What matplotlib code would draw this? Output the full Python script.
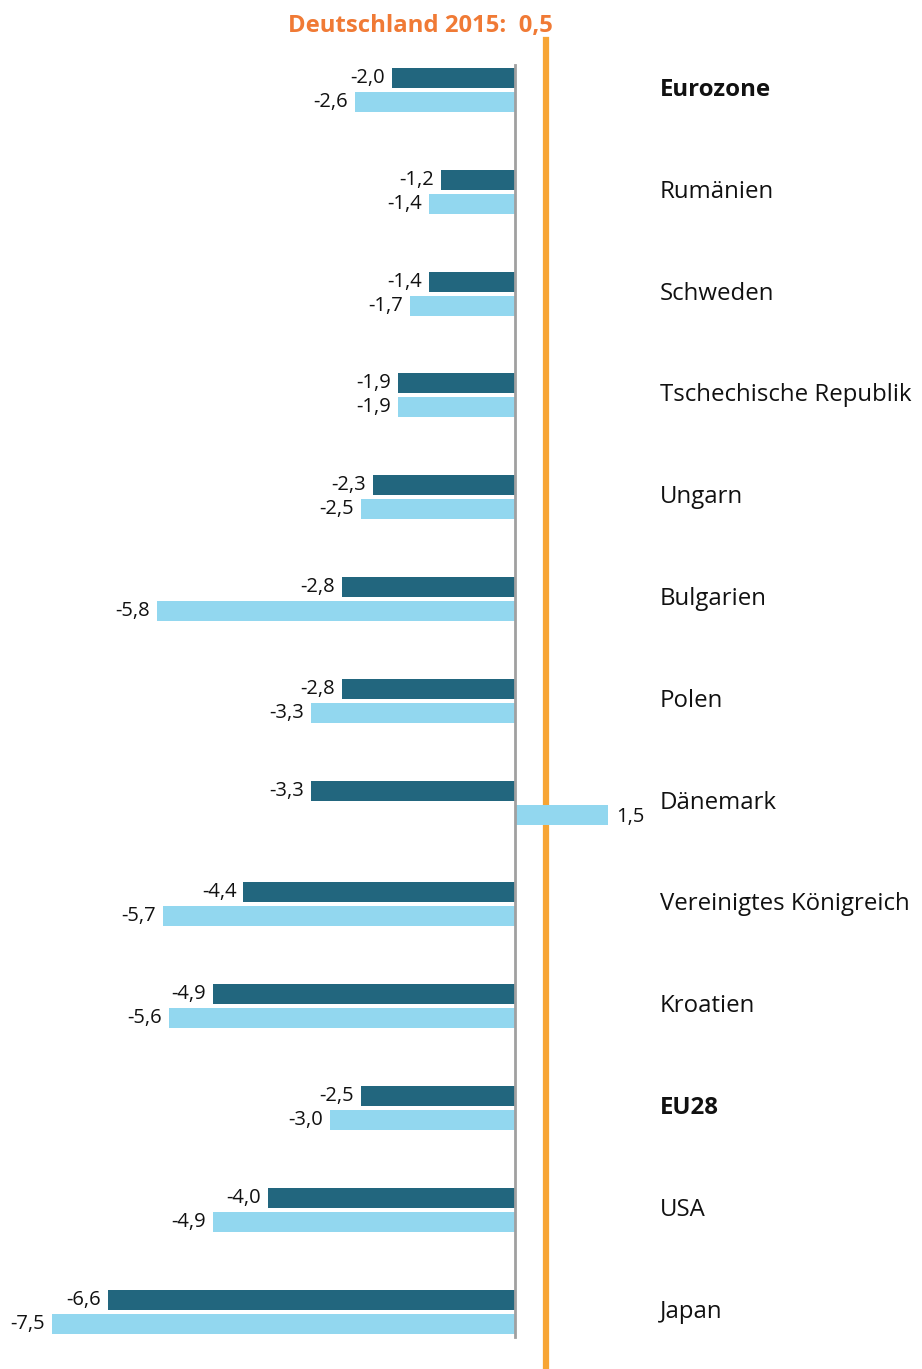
import matplotlib.pyplot as plt

plt.rcParams['font.family'] = ['Open Sans', 'DejaVu Sans']

countries = ["Eurozone", "Rumänien", "Schweden", "Tschechische Republik", "Ungarn",
             "Bulgarien", "Polen", "Dänemark", "Vereinigtes Königreich", "Kroatien",
             "EU28", "USA", "Japan"]
bold = ["Eurozone", "EU28"]
dark_vals = [-2.0, -1.2, -1.4, -1.9, -2.3, -2.8, -2.8, -3.3, -4.4, -4.9, -2.5, -4.0, -6.6]
light_vals = [-2.6, -1.4, -1.7, -1.9, -2.5, -5.8, -3.3, 1.5, -5.7, -5.6, -3.0, -4.9, -7.5]
germany = 0.5

dark = "#22667e"
light = "#92d7ef"
orange_line = "#f7a535"
orange_text = "#f07a35"

W, H = 922, 1369
fig = plt.figure(figsize=(W / 100, H / 100), dpi=100)
ax = fig.add_axes([0, 0, 1, 1])

px = 61.73  # pixels per unit
x0 = 515
ax.set_xlim(-x0 / px, (W - x0) / px)
row = 101.8
y0 = 90
ax.set_ylim((H - y0) / row, -y0 / row)
ax.axis("off")

pos = list(range(len(countries)))
bh = 20 / row
off = 12 / row
ax.barh([p - off for p in pos], dark_vals, height=bh, color=dark, zorder=2)
ax.barh([p + off for p in pos], light_vals, height=bh, color=light, zorder=2)

def fmt(v):
    return f"{v:.1f}".replace(".", ",")

pad = 7 / px
for p, dv, lv in zip(pos, dark_vals, light_vals):
    for v, yy in ((dv, p - off), (lv, p + off)):
        if v < 0:
            ax.text(v - pad, yy, fmt(v), ha="right", va="center", fontsize=14.5, color="#111111")
        else:
            ax.text(v + pad * 1.2, yy + 2 / row, fmt(v), ha="left", va="center", fontsize=14.5, color="#111111")

for p, c in zip(pos, countries):
    ax.text(145 / px, p, c, ha="left", va="center", fontsize=17.3, color="#111111",
            fontweight="bold" if c in bold else "normal")

# zero line
ax.plot([0, 0], [-25 / row, 12 + 25 / row], color="#a0a0a0", lw=2, zorder=3)
# Germany line
ax.plot([germany, germany], [-50 / row, (H - y0) / row], color=orange_line, lw=4.5, zorder=1)
ax.text(germany + 7 / px, -64 / row, "Deutschland 2015:  " + fmt(germany), ha="right", va="center",
        fontsize=17.2, fontweight="bold", color=orange_text)

fig.savefig("out.png", dpi=100)
